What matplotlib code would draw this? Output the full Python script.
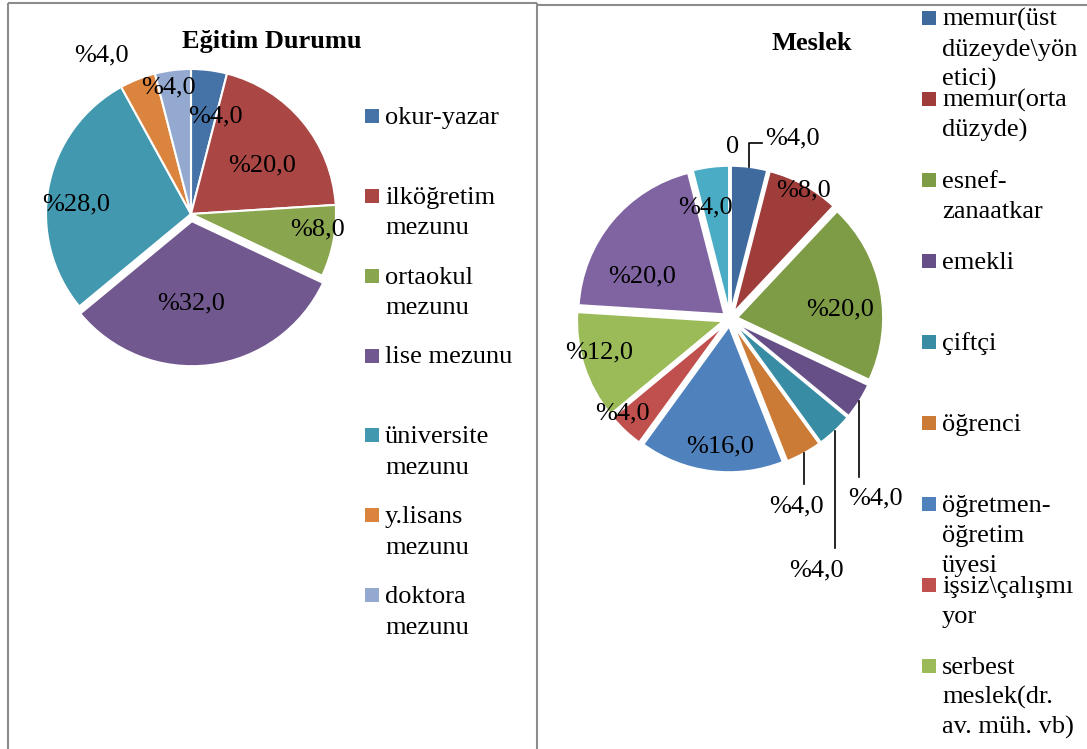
import matplotlib
matplotlib.use("Agg")
import matplotlib.pyplot as plt
import matplotlib.transforms as mtransforms
from matplotlib.patches import Rectangle
import numpy as np

W, H = 1087, 749
DPI = 100
plt.rcParams['font.family'] = ['Liberation Serif', 'DejaVu Serif']
FS = 19

# ---------------- data ----------------
edu_title = "Eğitim Durumu"
edu_categories = ["okur-yazar", "ilköğretim\nmezunu", "ortaokul\nmezunu", "lise mezunu",
                  "üniversite\nmezunu", "y.lisans\nmezunu", "doktora\nmezunu"]
edu_values = [4, 20, 8, 32, 28, 4, 4]
edu_colors = ['#4572A7', '#AA4643', '#89A54E', '#71588F', '#4198AF', '#DB843D', '#93A9CF']

job_title = "Meslek"
job_categories = ["memur(üst\ndüzeyde\\yön\netici)", "memur(orta\ndüzyde)", "esnef-\nzanaatkar",
                  "emekli", "çiftçi", "öğrenci", "öğretmen-\nöğretim\nüyesi",
                  "işsiz\\çalışmı\nyor", "serbest\nmeslek(dr.\nav. müh. vb)"]
job_values = [4, 8, 20, 4, 4, 4, 16, 4, 12, 20, 4]
job_colors = ['#3F6A9E', '#9E3D3A', '#7E9B46', '#664F87', '#388CA4', '#CC7B36',
              '#4F81BD', '#C0504D', '#9BBB59', '#8064A2', '#4BACC6']
job_extra_label = "0"


def pct_label(v):
    return "%" + f"{v:.1f}".replace(".", ",")


# ---------------- figure ----------------
fig = plt.figure(figsize=(W / DPI, H / DPI), dpi=DPI)
ov = fig.add_axes([0, 0, 1, 1])
ov.set_xlim(0, W)
ov.set_ylim(H, 0)
ov.axis('off')

# panel borders
bc = '#8c8c8c'
ov.plot([8.3, 8.3], [3.3, H], color=bc, lw=1.5, solid_capstyle='butt')
ov.plot([8.3, 536.5], [3.3, 3.3], color=bc, lw=1.5, solid_capstyle='butt')
ov.plot([536.5, 536.5], [3.3, H], color=bc, lw=1.5, solid_capstyle='butt')
ov.plot([536.5, W], [5.0, 5.0], color=bc, lw=1.5, solid_capstyle='butt')


def px_axes(cx, cy, scale, half):
    size = 2 * half * scale
    ax = fig.add_axes([(cx - size / 2) / W, (H - cy - size / 2) / H, size / W, size / H])
    return ax


def draw_pie(ax, values, colors, explode, lw, half):
    wedges, _ = ax.pie(values, colors=colors, startangle=90, counterclock=False,
                       explode=explode, radius=1.0,
                       wedgeprops=dict(edgecolor='white', linewidth=lw))
    ax.set_xlim(-half, half)
    ax.set_ylim(-half, half)
    ax.set_aspect('equal')
    ax.axis('off')
    return wedges


def mid_angle(w):
    return (w.theta1 + w.theta2) / 2.0


def label_tr(ax):
    # baseline shifted so that the digits are centred on the anchor point
    return mtransforms.offset_copy(ax.transData, fig=fig, x=0, y=-8.5, units='dots')


# ---------------- left pie ----------------
HALF = 1.4
axL = px_axes(191, 214, 145, HALF)
edu_explode = [0, 0, 0, 0.05, 0, 0, 0]
wL = draw_pie(axL, edu_values, edu_colors, edu_explode, 1.5, HALF)
edu_lab_r = [0.71, 0.60, 0.875, 0.60, 0.80, 1.27, 0.90]
edu_lab_da = [-6.3, -3.9, 4.9, -7.2, 4.6, 7.5, 2.6]
trL = label_tr(axL)
for w, v, f, da in zip(wL, edu_values, edu_lab_r, edu_lab_da):
    a = np.deg2rad(mid_angle(w) + da)
    axL.text(f * np.cos(a), f * np.sin(a), pct_label(v), ha='center', va='baseline',
             fontsize=FS, transform=trL, clip_on=False)

# ---------------- right pie ----------------
axR = px_axes(730, 319, 146, HALF)
ex = 0.05
job_explode = [ex] * len(job_values)
wR = draw_pie(axR, job_values, job_colors, job_explode, 1.5, HALF)
trR = label_tr(axR)

inside = {1: (1.027, -0.5), 2: (0.759, -4.4), 6: (0.859, 2.8), 7: (0.967, -6.3),
          8: (0.919, -4.7), 9: (0.677, 12.5), 10: (0.799, 4.9)}
for i, (f, da) in inside.items():
    a = np.deg2rad(mid_angle(wR[i]) + da)
    axR.text(f * np.cos(a), f * np.sin(a), pct_label(job_values[i]), ha='center',
             va='baseline', fontsize=FS, transform=trR, clip_on=False)

# labels with vertical leader lines below the pie
below = {3: (0.521, 0.107, -0.128), 4: (0.806, -0.125, -0.137), 5: (0.21, -0.051, -0.137)}
for i, (drop, dx, dy) in below.items():
    a = np.deg2rad(mid_angle(wR[i]))
    x0, y0 = (1 + ex) * np.cos(a), (1 + ex) * np.sin(a)
    axR.plot([x0, x0], [y0, y0 - drop], color='black', lw=1.2, clip_on=False)
    axR.text(x0 + dx, y0 - drop + dy, pct_label(job_values[i]), ha='center',
             va='baseline', fontsize=FS, transform=trR, clip_on=False)

# top label with elbow leader
a = np.deg2rad(mid_angle(wR[0]))
x0, y0 = (1 + ex) * np.cos(a), (1 + ex) * np.sin(a)
rise, run = 0.165, 0.085
axR.plot([x0, x0, x0 + run], [y0, y0 + rise, y0 + rise], color='black', lw=1.2,
         clip_on=False)
axR.text(x0 + run + 0.023, y0 + rise + 0.046, pct_label(job_values[0]), ha='left',
         va='baseline', fontsize=FS, transform=trR, clip_on=False)
axR.text(x0 - 0.068, y0 + rise - 0.012, job_extra_label, ha='right', va='baseline',
         fontsize=FS, transform=trR, clip_on=False)

# ---------------- titles ----------------
ov.text(272, 48.3, edu_title, ha='center', va='baseline', fontsize=FS, fontweight='bold')
ov.text(812, 49.5, job_title, ha='center', va='baseline', fontsize=FS, fontweight='bold')


# ---------------- legends ----------------
def legend(cats, colors, sq_x, text_x, start, step, line_h):
    for i, (cat, col) in enumerate(zip(cats, colors)):
        yc = start + i * step
        ov.add_patch(Rectangle((sq_x, yc - 7.5), 14, 14, facecolor=col, edgecolor='none'))
        for j, line in enumerate(cat.split("\n")):
            ov.text(text_x, yc + j * line_h + 7.3, line, ha='left', va='baseline',
                    fontsize=FS, clip_on=False)


legend(edu_categories, edu_colors, 365, 385, 116.7, 79.8, 30.7)
legend(job_categories, job_colors[:len(job_categories)], 922, 942, 18.3, 81.0, 30.2)

fig.savefig("out.png", dpi=DPI)
